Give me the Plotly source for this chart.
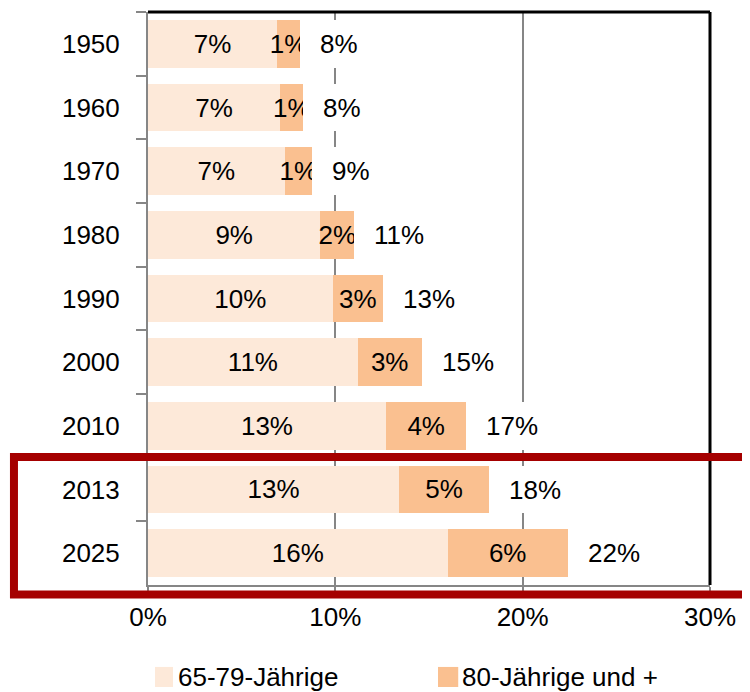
import plotly.graph_objects as go

# Anteil der älteren Bevölkerung (in %)
years = ["1950", "1960", "1970", "1980", "1990", "2000", "2010", "2013", "2025"]
age_65_79 = [6.9, 7.05, 7.3, 9.2, 9.85, 11.2, 12.7, 13.4, 16.0]
age_80_plus = [1.2, 1.25, 1.45, 1.8, 2.7, 3.4, 4.3, 4.8, 6.4]
totals = [a + b for a, b in zip(age_65_79, age_80_plus)]

series_names = ["65-79-Jährige", "80-Jährige und +"]
x_ticks = [0, 10, 20, 30]
x_ticktext = ["0%", "10%", "20%", "30%"]

LIGHT = "#FDE9D9"
DARK = "#FAC090"
GREY = "#868686"
RED = "#A50000"
FONT = "Liberation Sans, Arial, sans-serif"
LABEL_PAD = 4  # invisible white spacer behind the total label (hides the grid)

fig = go.Figure()
fig.add_trace(go.Bar(
    y=years, x=age_65_79, orientation="h", name=series_names[0],
    marker=dict(color=LIGHT, line=dict(width=0)),
    texttemplate="%{x:.0f}%", textposition="inside", insidetextanchor="middle",
    textangle=0, textfont=dict(color="black", size=26),
))
fig.add_trace(go.Bar(
    y=years, x=age_80_plus, orientation="h", name=series_names[1],
    marker=dict(color=DARK, line=dict(width=0)),
    texttemplate="%{x:.0f}%", textposition="inside", insidetextanchor="middle",
    textangle=0, textfont=dict(color="black", size=26),
))
fig.add_trace(go.Bar(
    y=years, x=[LABEL_PAD] * len(years), orientation="h",
    marker=dict(color="white", line=dict(width=0)), showlegend=False,
))

# totals, left aligned a little right of the bar end
# (category axis: position by index, "1950" would be read as a number)
for i, tot in enumerate(totals):
    fig.add_annotation(x=tot, y=i, text=f"{tot:.0f}%", showarrow=False,
                       xanchor="left", yanchor="middle", xshift=18,
                       font=dict(size=26, color="black"))

# the page body adds 8px, so the figure is 8px smaller to sit like the original
fig.update_layout(
    width=742, height=684,
    margin=dict(l=140, r=40, t=4, b=107, autoexpand=False),
    barmode="stack", bargap=0.25,
    plot_bgcolor="white", paper_bgcolor="white",
    font=dict(family=FONT, size=26, color="black"),
    showlegend=False,
    uniformtext=dict(minsize=26, mode="show"),
    hovermode=False,
)
fig.update_xaxes(
    range=[0, 30], tickvals=x_ticks, ticktext=x_ticktext,
    showgrid=True, gridcolor=GREY, gridwidth=2, zeroline=False,
    showline=True, linecolor=GREY, linewidth=2,
    ticks="outside", ticklen=7, tickwidth=2, tickcolor=GREY,
    ticklabelstandoff=1,
)
fig.update_yaxes(
    type="category", categoryorder="array", categoryarray=years,
    range=[8.5, -0.5], tickson="boundaries",
    showgrid=False, zeroline=False,
    showline=True, linecolor=GREY, linewidth=2,
    ticks="outside", ticklen=10, tickwidth=2, tickcolor=GREY,
    ticklabelstandoff=21,
)

# black frame on top and right
fig.add_shape(type="line", xref="paper", yref="paper", x0=0, x1=1, y0=1, y1=1,
              line=dict(color="black", width=3))
fig.add_shape(type="line", xref="paper", yref="paper", x0=1, x1=1, y0=0, y1=1,
              line=dict(color="black", width=3))

# red highlight box around 2013 / 2025
fig.add_shape(type="rect", xref="paper", yref="paper",
              x0=-0.2385, x1=1.1, y0=-0.0166, y1=0.2233,
              line=dict(color=RED, width=8))

# legend drawn by hand (square swatch directly before the text)
legend_items = [(0.0125, 0.0445, 0.0498), (0.516, 0.552, 0.555)]
for (sx0, sx1, tx), name, col in zip(legend_items, series_names, [LIGHT, DARK]):
    fig.add_shape(type="rect", xref="paper", yref="paper",
                  x0=sx0, x1=sx1, y0=-0.178, y1=-0.143,
                  fillcolor=col, line=dict(width=0))
    fig.add_annotation(xref="paper", yref="paper", x=tx, y=-0.1606,
                       xanchor="left", yanchor="middle", text=name,
                       showarrow=False, font=dict(size=26, color="black"))

fig.write_html("out.html")
